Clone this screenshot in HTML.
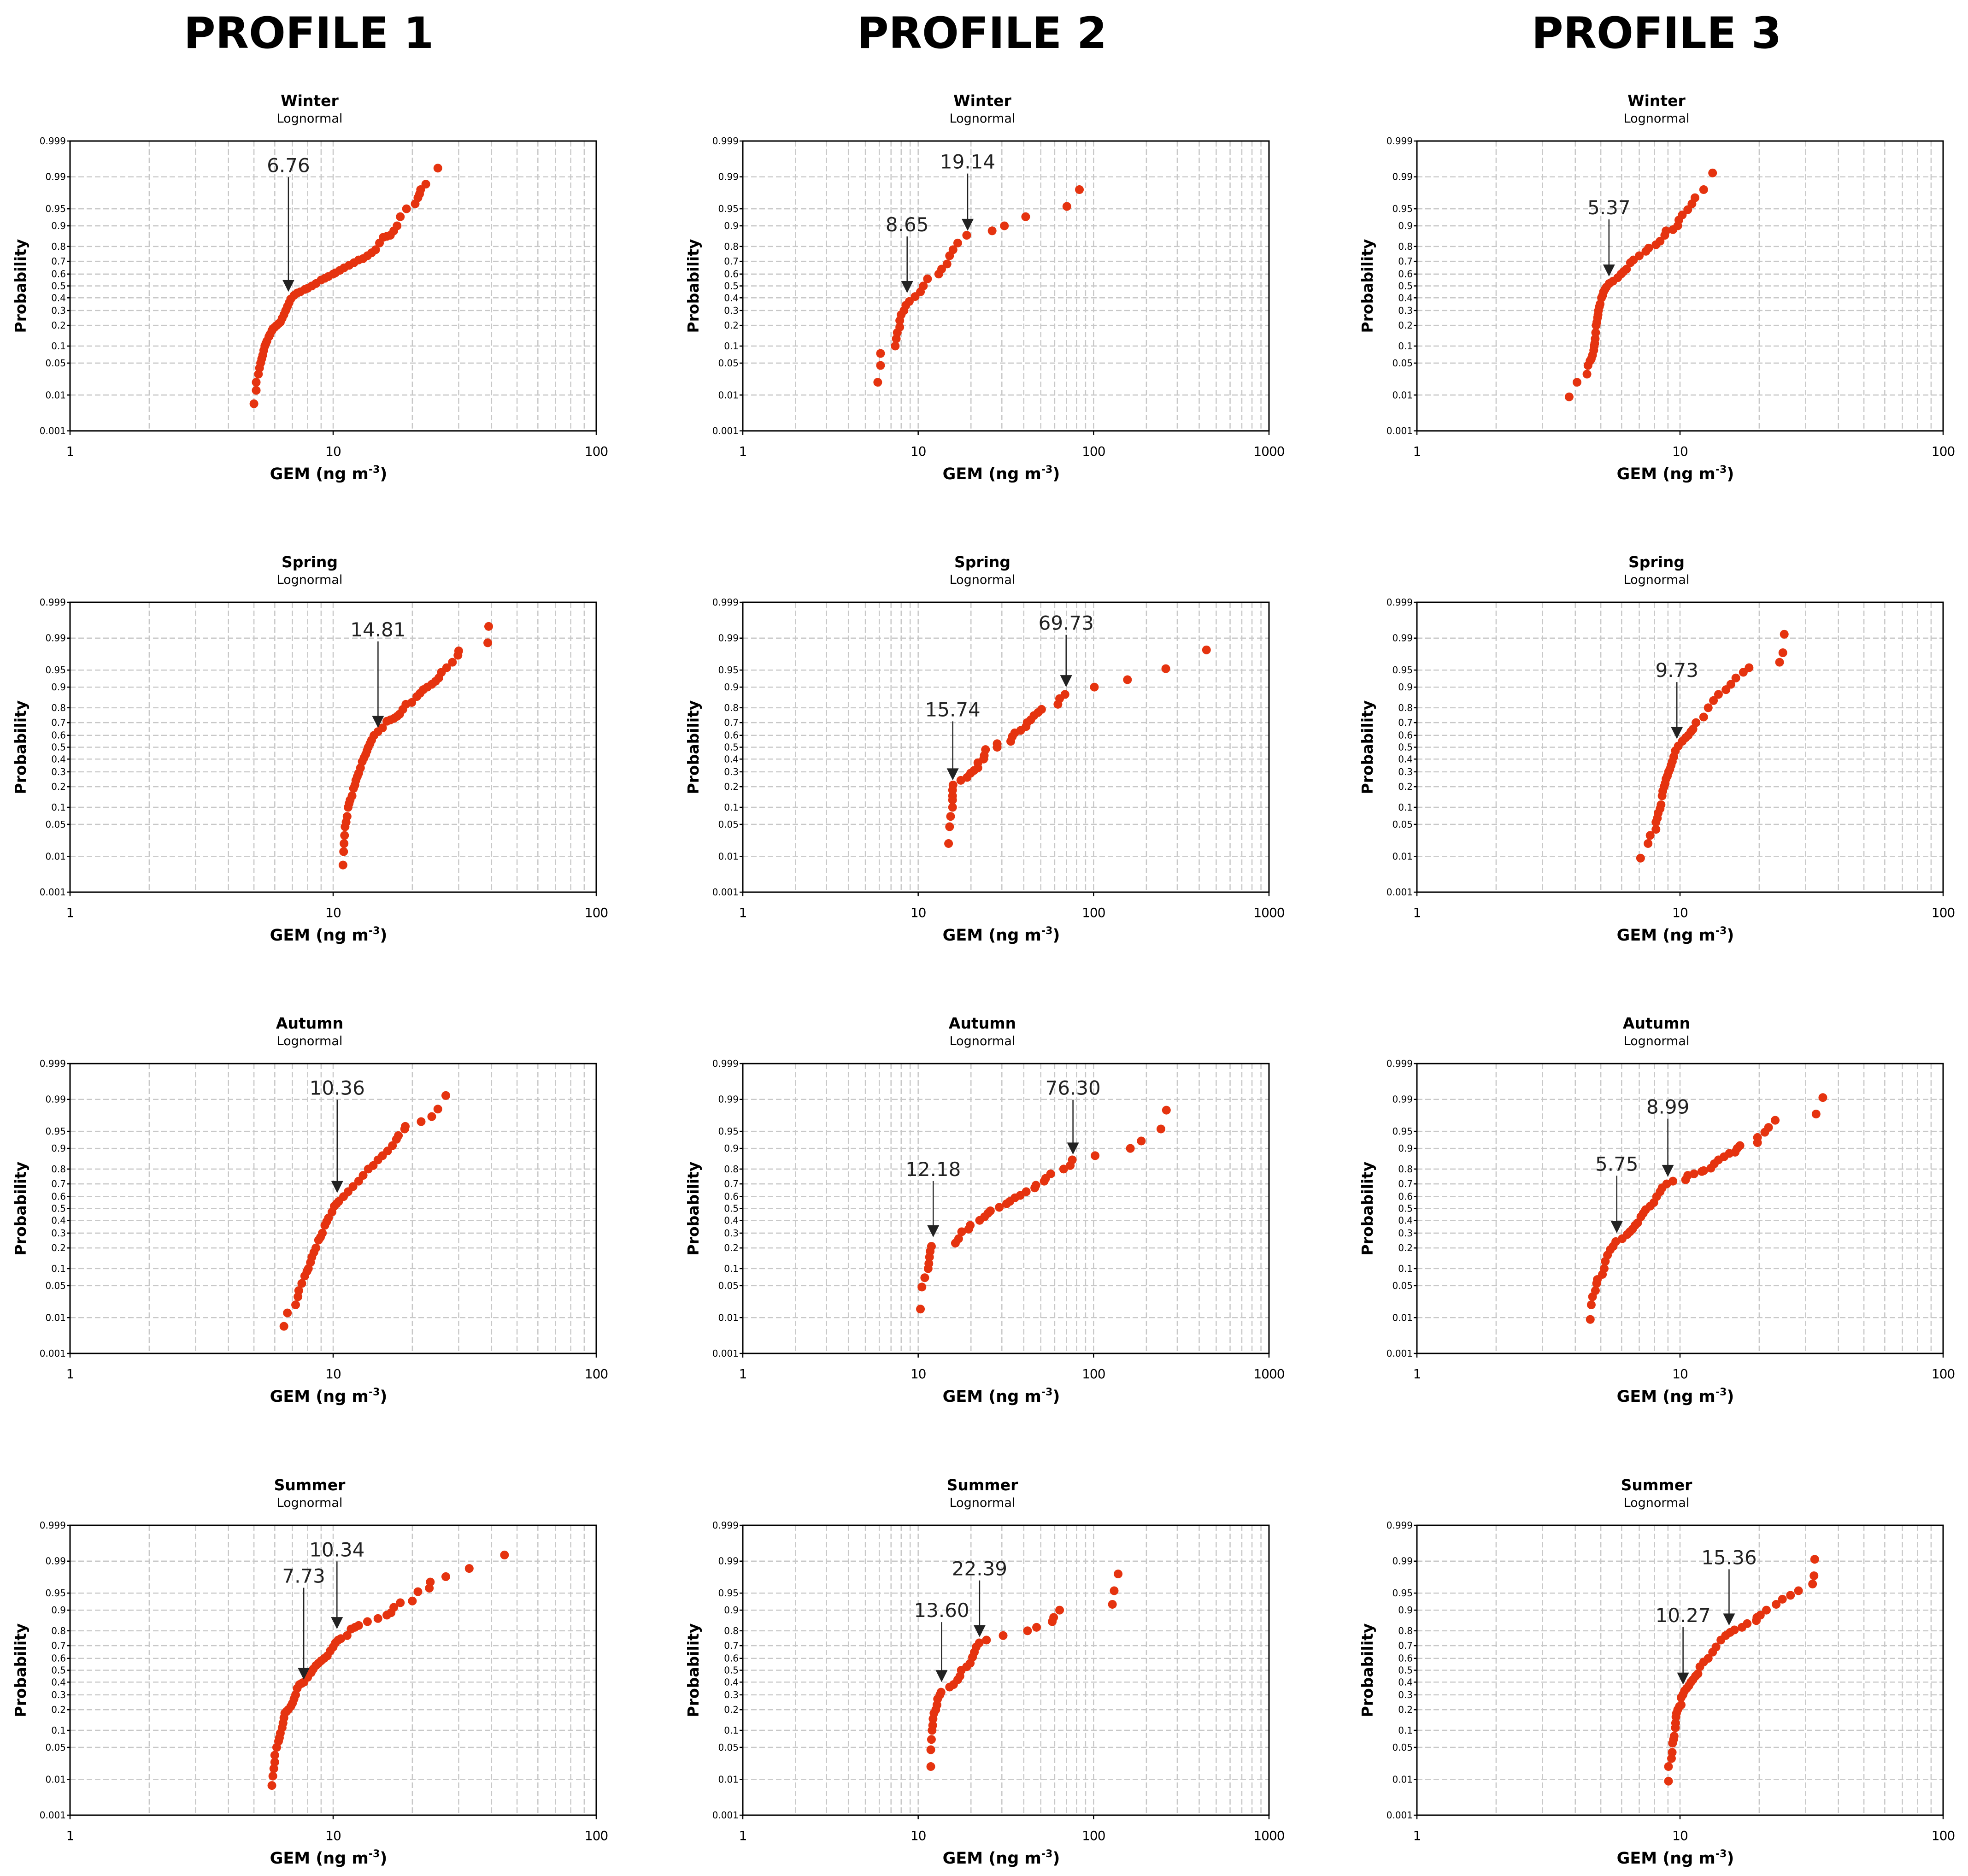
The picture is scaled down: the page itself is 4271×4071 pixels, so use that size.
<!DOCTYPE html>
<html><head><meta charset="utf-8"><style>
html,body{margin:0;padding:0;background:#fff;}
svg{display:block;}
text{font-family:"DejaVu Sans","Liberation Sans",sans-serif;}
</style></head>
<body>
<svg id="chart" width="4271" height="4071" viewBox="0 0 4271 4071" xmlns="http://www.w3.org/2000/svg">
<rect x="0" y="0" width="4271" height="4071" fill="#fff"/>
<text x="670" y="104" text-anchor="middle" font-size="94" font-weight="bold">PROFILE 1</text>
<text x="2131" y="104" text-anchor="middle" font-size="94" font-weight="bold">PROFILE 2</text>
<text x="3595" y="104" text-anchor="middle" font-size="94" font-weight="bold">PROFILE 3</text>
</svg>
<script>
// ---- data (GEM values and cumulative probabilities) ----
const p1WinterX=[5.0,5.1,5.1,5.2,5.25,5.3,5.35,5.4,5.45,5.5,5.55,5.6,5.7,5.75,5.85,5.9,6.0,6.1,6.2,6.3,6.4,6.5,6.6,6.7,6.8,6.9,7.1,7.3,7.5,7.8,8.0,8.3,8.6,9.0,9.3,9.6,10.0,10.2,10.6,11,11.5,12,12.5,13,13.5,14,14.5,15,15.5,16,16.5,17,17.5,18,19,20.5,21,21.3,21.5,22.5,25];
const p1WinterP=[0.006,0.013,0.02,0.03,0.04,0.05,0.06,0.07,0.085,0.1,0.11,0.12,0.14,0.15,0.17,0.18,0.19,0.2,0.21,0.22,0.245,0.27,0.3,0.33,0.36,0.39,0.42,0.44,0.45,0.47,0.48,0.5,0.52,0.55,0.565,0.58,0.6,0.61,0.63,0.65,0.67,0.69,0.71,0.72,0.74,0.76,0.78,0.82,0.85,0.855,0.86,0.88,0.9,0.93,0.95,0.96,0.97,0.975,0.98,0.985,0.994];
const p1SpringX=[10.9,10.96,11.0,11.05,11.1,11.2,11.3,11.4,11.5,11.6,11.8,11.95,12.1,12.2,12.35,12.5,12.7,12.9,13.1,13.3,13.45,13.6,13.8,14.0,14.3,14.8,15.4,16,16.5,17,17.5,17.9,18.4,18.9,19.9,20.8,21.4,22,22.8,23.7,24.5,25.2,25.8,27,28.4,29.8,30,38.7,39];
const p1SpringP=[0.006,0.013,0.02,0.03,0.045,0.055,0.07,0.1,0.115,0.13,0.15,0.19,0.21,0.24,0.265,0.29,0.33,0.38,0.41,0.44,0.47,0.5,0.53,0.56,0.6,0.63,0.66,0.71,0.72,0.73,0.745,0.76,0.79,0.82,0.83,0.86,0.875,0.89,0.9,0.91,0.92,0.93,0.945,0.955,0.965,0.975,0.98,0.987,0.995];
const p1AutumnX=[6.5,6.7,7.2,7.35,7.4,7.6,7.8,7.95,8.05,8.2,8.3,8.45,8.6,8.8,8.95,9.1,9.3,9.45,9.6,9.9,10.1,10.3,10.5,10.95,11.4,11.9,12.5,13,13.6,14.2,14.8,15.4,16.1,16.8,17.4,17.7,18.7,18.8,21.6,23.7,25,26.8];
const p1AutumnP=[0.006,0.013,0.02,0.03,0.04,0.055,0.075,0.09,0.1,0.125,0.15,0.175,0.2,0.25,0.27,0.3,0.36,0.39,0.42,0.47,0.52,0.54,0.56,0.6,0.64,0.68,0.72,0.76,0.8,0.82,0.85,0.87,0.89,0.91,0.93,0.94,0.955,0.96,0.968,0.975,0.983,0.992];
const p1SummerX=[5.85,5.9,5.95,6.0,6.0,6.1,6.2,6.25,6.3,6.4,6.45,6.5,6.55,6.65,6.75,6.9,7.0,7.1,7.2,7.3,7.45,7.6,7.75,8.0,8.25,8.4,8.6,8.8,9.0,9.25,9.5,9.75,10.0,10.2,10.45,10.7,11.3,11.7,12.1,12.5,13.5,14.8,16,16.6,17,18,20,21,23.2,23.4,26.8,32.9,44.8];
const p1SummerP=[0.007,0.012,0.018,0.025,0.035,0.05,0.065,0.075,0.09,0.11,0.13,0.155,0.18,0.19,0.2,0.22,0.24,0.27,0.3,0.35,0.38,0.39,0.4,0.44,0.48,0.51,0.54,0.56,0.58,0.6,0.62,0.66,0.69,0.72,0.74,0.75,0.77,0.81,0.82,0.83,0.85,0.865,0.88,0.89,0.91,0.925,0.93,0.953,0.96,0.97,0.977,0.985,0.993];
const p2WinterX=[5.88,6.1,6.1,7.4,7.5,7.6,7.85,7.85,8.0,8.3,8.5,8.9,9.6,10.3,10.7,11.3,13.1,13.6,14.6,15.1,15.8,16.8,18.9,26.4,31,41,70.4,83];
const p2WinterP=[0.02,0.045,0.075,0.1,0.13,0.16,0.19,0.23,0.27,0.3,0.34,0.37,0.41,0.45,0.5,0.56,0.6,0.64,0.68,0.74,0.78,0.82,0.86,0.88,0.9,0.93,0.955,0.98];
const p2SpringX=[14.9,15.1,15.3,15.7,15.7,15.7,15.7,15.8,17.5,19,19.9,20.8,21.9,21.9,23.6,23.8,24.2,28.2,28.2,33.7,34.4,35.5,38.4,41.2,41.8,43.8,45.7,48.2,50.5,62.6,64,68.7,101,156,258,440];
const p2SpringP=[0.02,0.045,0.07,0.1,0.13,0.15,0.18,0.21,0.24,0.26,0.29,0.31,0.33,0.37,0.4,0.43,0.48,0.5,0.53,0.55,0.59,0.62,0.64,0.67,0.7,0.72,0.75,0.77,0.79,0.82,0.85,0.87,0.9,0.925,0.953,0.981];
const p2AutumnX=[10.3,10.5,10.9,11.4,11.5,11.6,11.7,11.9,16.3,17,17.7,19.4,19.8,22.4,23.9,25,25.8,29,31.9,33.3,35.6,38.2,41.3,46.2,46.9,52.3,53.3,56.9,67.5,73.6,75.6,102,162,187,242,260];
const p2AutumnP=[0.016,0.047,0.07,0.1,0.12,0.15,0.18,0.21,0.23,0.26,0.31,0.33,0.36,0.4,0.43,0.46,0.48,0.51,0.54,0.56,0.59,0.61,0.64,0.67,0.69,0.72,0.74,0.77,0.8,0.82,0.85,0.87,0.9,0.925,0.955,0.982];
const p2SummerX=[11.8,11.8,11.9,12.0,12.1,12.15,12.3,12.6,12.8,12.9,13.3,13.5,15.1,15.9,16.8,17.3,17.6,18.9,19.8,20.4,20.9,21.4,22.3,24.5,30.5,42.0,47.3,58.1,59.2,64,128,131,138];
const p2SummerP=[0.02,0.045,0.07,0.1,0.12,0.15,0.18,0.2,0.23,0.27,0.3,0.32,0.36,0.38,0.42,0.45,0.5,0.53,0.56,0.61,0.65,0.69,0.72,0.74,0.77,0.8,0.82,0.85,0.87,0.9,0.92,0.955,0.98];
const p3WinterX=[3.79,4.06,4.43,4.47,4.55,4.6,4.65,4.7,4.72,4.74,4.76,4.78,4.8,4.83,4.86,4.88,4.9,4.94,4.97,5.03,5.08,5.12,5.18,5.25,5.38,5.56,5.8,5.97,6.1,6.26,6.48,6.65,7.0,7.42,7.6,8.1,8.4,8.75,8.85,9.4,9.8,9.9,10.2,10.7,11.1,11.4,12.3,13.3];
const p3WinterP=[0.009,0.02,0.03,0.045,0.055,0.06,0.07,0.085,0.1,0.11,0.13,0.16,0.2,0.22,0.25,0.27,0.3,0.33,0.35,0.4,0.42,0.45,0.47,0.49,0.52,0.54,0.57,0.6,0.62,0.64,0.69,0.71,0.74,0.77,0.79,0.81,0.83,0.86,0.88,0.885,0.9,0.92,0.935,0.948,0.96,0.97,0.98,0.992];
const p3SpringX=[7.08,7.56,7.7,8.1,8.1,8.2,8.26,8.4,8.47,8.55,8.6,8.7,8.78,8.85,8.95,9.05,9.15,9.25,9.35,9.47,9.6,9.85,10.2,10.5,10.75,11.0,11.2,11.5,12.3,12.8,13.4,14.0,14.95,15.6,16.3,17.4,18.3,23.9,24.6,24.9];
const p3SpringP=[0.009,0.02,0.03,0.04,0.055,0.065,0.08,0.095,0.11,0.15,0.175,0.2,0.22,0.25,0.27,0.3,0.32,0.35,0.38,0.42,0.47,0.51,0.55,0.58,0.6,0.63,0.65,0.7,0.74,0.8,0.84,0.87,0.89,0.91,0.93,0.945,0.955,0.965,0.978,0.992];
const p3AutumnX=[4.56,4.6,4.65,4.77,4.82,4.85,5.07,5.15,5.2,5.3,5.43,5.57,5.7,6.03,6.3,6.45,6.6,6.75,6.9,7.1,7.25,7.4,7.7,7.95,8.15,8.4,8.55,8.9,9.4,10.5,10.7,11.3,12.1,12.3,13.1,13.5,14.0,14.7,15.4,16.2,16.5,16.9,19.7,19.7,21.0,21.7,23.0,32.9,34.9];
const p3AutumnP=[0.009,0.02,0.03,0.04,0.055,0.065,0.08,0.1,0.13,0.16,0.19,0.21,0.24,0.26,0.29,0.31,0.33,0.36,0.38,0.43,0.46,0.49,0.52,0.55,0.6,0.64,0.67,0.7,0.72,0.73,0.76,0.77,0.785,0.79,0.805,0.83,0.85,0.865,0.88,0.885,0.9,0.91,0.92,0.935,0.948,0.958,0.97,0.978,0.991];
const p3SummerX=[9.04,9.04,9.28,9.34,9.37,9.45,9.5,9.6,9.62,9.65,9.7,9.8,9.95,10.1,10.1,10.25,10.4,10.6,10.8,11.0,11.2,11.45,11.7,11.9,12.3,12.8,13.3,13.7,14.3,14.9,15.5,16.1,17.2,18.0,19.5,19.6,20.2,21.3,23.2,24.5,26.3,28.2,31.9,32.3,32.5];
const p3SummerP=[0.009,0.02,0.03,0.04,0.06,0.07,0.08,0.11,0.13,0.16,0.18,0.2,0.22,0.23,0.28,0.3,0.33,0.35,0.37,0.4,0.42,0.45,0.47,0.53,0.57,0.6,0.65,0.69,0.74,0.77,0.79,0.805,0.82,0.84,0.855,0.87,0.88,0.9,0.92,0.935,0.945,0.955,0.967,0.978,0.991];
// annotations: marked value, arrow tip probability, label probability
const p1WinterArrows=[[6.76,0.45,0.995]];
const p1SpringArrows=[[14.81,0.66,0.994]];
const p1AutumnArrows=[[10.36,0.63,0.995]];
const p1SummerArrows=[[7.73,0.42,0.978],[10.34,0.81,0.995]];
const p2WinterArrows=[[8.65,0.44,0.905],[19.14,0.88,0.996]];
const p2SpringArrows=[[15.74,0.24,0.79],[69.73,0.9,0.996]];
const p2AutumnArrows=[[12.18,0.27,0.8],[76.30,0.875,0.995]];
const p2SummerArrows=[[13.60,0.4,0.9],[22.39,0.76,0.985]];
const p3WinterArrows=[[5.37,0.58,0.953]];
const p3SpringArrows=[[9.73,0.57,0.95]];
const p3AutumnArrows=[[5.75,0.3,0.83],[8.99,0.75,0.985]];
const p3SummerArrows=[[10.27,0.38,0.88],[15.36,0.83,0.992]];
const seasons=["Winter","Spring","Autumn","Summer"];
const yTicks=[0.001,0.01,0.05,0.1,0.2,0.3,0.4,0.5,0.6,0.7,0.8,0.9,0.95,0.99,0.999];
const yTickLabels=["0.001","0.01","0.05","0.1","0.2","0.3","0.4","0.5","0.6","0.7","0.8","0.9","0.95","0.99","0.999"];

const panels=[
 [p1WinterX,p1WinterP,p1WinterArrows],[p2WinterX,p2WinterP,p2WinterArrows],[p3WinterX,p3WinterP,p3WinterArrows],
 [p1SpringX,p1SpringP,p1SpringArrows],[p2SpringX,p2SpringP,p2SpringArrows],[p3SpringX,p3SpringP,p3SpringArrows],
 [p1AutumnX,p1AutumnP,p1AutumnArrows],[p2AutumnX,p2AutumnP,p2AutumnArrows],[p3AutumnX,p3AutumnP,p3AutumnArrows],
 [p1SummerX,p1SummerP,p1SummerArrows],[p2SummerX,p2SummerP,p2SummerArrows],[p3SummerX,p3SummerP,p3SummerArrows]];

const colLeft=[152,1612,3075], rowTop=[306,1307,2308,3310], W=1142, H=629;
const NS="http://www.w3.org/2000/svg";
const svg=document.getElementById("chart");
function mk(tag,attrs,parent,txt){const e=document.createElementNS(NS,tag);for(const k in attrs)e.setAttribute(k,attrs[k]);if(txt!==undefined)e.textContent=txt;(parent||svg).appendChild(e);return e;}
function probit(p){
 const a=[-39.69683028665376,220.9460984245205,-275.9285104469687,138.3577518672690,-30.66479806614716,2.506628277459239];
 const b=[-54.47609879822406,161.5858368580409,-155.6989798598866,66.80131188771720,-13.28068155288572];
 const c=[-0.007784894002430293,-0.3223964580411365,-2.400758277161838,-2.549732539343734,4.374664141464968,2.938163982698783];
 const d=[0.007784695709041462,0.3224671290700398,2.445134137142996,3.754408661907416];
 const pl=0.02425;let q,r;
 if(p<pl){q=Math.sqrt(-2*Math.log(p));return (((((c[0]*q+c[1])*q+c[2])*q+c[3])*q+c[4])*q+c[5])/((((d[0]*q+d[1])*q+d[2])*q+d[3])*q+1);}
 if(p<=1-pl){q=p-0.5;r=q*q;return (((((a[0]*r+a[1])*r+a[2])*r+a[3])*r+a[4])*r+a[5])*q/(((((b[0]*r+b[1])*r+b[2])*r+b[3])*r+b[4])*r+1);}
 q=Math.sqrt(-2*Math.log(1-p));return -(((((c[0]*q+c[1])*q+c[2])*q+c[3])*q+c[4])*q+c[5])/((((d[0]*q+d[1])*q+d[2])*q+d[3])*q+1);
}
const zMin=probit(0.001), zMax=probit(0.999);

panels.forEach((pd,i)=>{
 const col=i%3,row=Math.floor(i/3);
 const L=colLeft[col],T=rowTop[row],B=T+H,R=L+W;
 const decades=(col===1)?3:2;
 const xs=v=>L+Math.log10(v)/decades*W;
 const ys=p=>B-(probit(p)-zMin)/(zMax-zMin)*H;
 const g=mk("g",{});
 
 
 const cx=L+520;
 const t1=mk("text",{x:cx,y:T-76,"text-anchor":"middle","font-size":33,"font-weight":"bold"},g,seasons[row]);
 
 
 const t2=mk("text",{x:cx,y:T-40,"text-anchor":"middle","font-size":27},g,"Lognormal");
 
 
 const gg=mk("g",{stroke:"#c8c8c8","stroke-width":2.5,"stroke-dasharray":"12 6",fill:"none"},g);
 
 
 for(let d=0;d<decades;d++){for(let m=1;m<=9;m++){const v=Math.pow(10,d)*m;if(v===1)continue;const X=xs(v);mk("line",{x1:X,x2:X,y1:T,y2:B},gg);}}
 yTicks.forEach(p=>{if(p===0.001||p===0.999)return;const Y=ys(p);mk("line",{x1:L,x2:R,y1:Y,y2:Y},gg);});
 const fr=mk("rect",{x:L,y:T,width:W,height:H,fill:"none",stroke:"#000","stroke-width":3},g);
 
 
 yTicks.forEach((p,k)=>{const Y=ys(p);mk("line",{x1:L-7,x2:L,y1:Y,y2:Y,stroke:"#000","stroke-width":2.5},g);
  const tl=mk("text",{x:L-9,y:Y+7,"text-anchor":"end","font-size":20},g,yTickLabels[k]);
  
  });
 for(let d=0;d<=decades;d++){const v=Math.pow(10,d);const X=xs(v);mk("line",{x1:X,x2:X,y1:B,y2:B+9,stroke:"#000","stroke-width":2.5},g);
  const xl=mk("text",{x:X,y:B+54,"text-anchor":"middle","font-size":28,"letter-spacing":"-1"},g,String(v));
  
  }
 const xt=mk("text",{x:L+W/2-10,y:B+105,"text-anchor":"middle","font-size":35,"font-weight":"bold"},g);
 
 
 mk("tspan",{},xt,"GEM (ng m");
 mk("tspan",{dy:-14,"font-size":22},xt,"-3");
 mk("tspan",{dy:14},xt,")");
 const yt=mk("text",{x:0,y:0,"text-anchor":"middle","font-size":33,"font-weight":"bold",transform:"translate("+(L-96)+","+(T+H/2)+") rotate(-90)"},g,"Probability");
 
 
 const pg=mk("g",{fill:"#e5330f"},g);
 
 
 pd[0].forEach((v,k)=>{const c=mk("circle",{cx:xs(v),cy:ys(pd[1][k]),r:9.5},pg);
  
  });
 pd[2].forEach(a=>{
  const X=xs(a[0]),tip=ys(a[1]),ly=ys(a[2]);
  const ag=mk("g",{},g);
  
  
  mk("text",{x:X,y:ly+15,"text-anchor":"middle","font-size":42,fill:"#222","font-family":"Liberation Sans, sans-serif"},ag,a[0].toFixed(2));
  mk("line",{x1:X,x2:X,y1:ly+26,y2:tip-24,stroke:"#222","stroke-width":2.5},ag);
  mk("polygon",{points:(X-13)+","+(tip-26)+" "+(X+13)+","+(tip-26)+" "+X+","+tip,fill:"#222"},ag);
 });
});
</script>
</body></html>
